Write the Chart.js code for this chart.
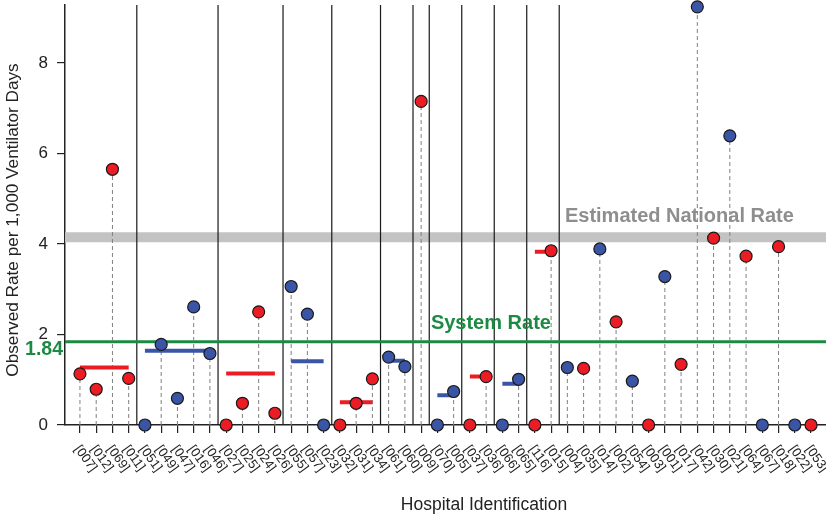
<!DOCTYPE html>
<html>
<head>
<meta charset="utf-8">
<script src="https://cdn.jsdelivr.net/npm/chart.js@4.4.0/dist/chart.umd.min.js"></script>
<style>
body{margin:0;background:#fff;}
#wrap{width:826px;height:516px;position:relative;}
</style>
</head>
<body>
<div id="wrap"><canvas id="grafico"></canvas></div>
<script>
// hospitales en el orden del eje x
var hospitales = ["[007]","[012]","[069]","[011]","[051]","[049]","[047]","[016]","[046]","[027]","[025]","[024]","[026]",
  "[055]","[057]","[023]","[032]","[031]","[034]","[061]","[060]","[009]","[070]","[005]","[037]","[036]","[066]","[065]",
  "[116]","[015]","[004]","[035]","[014]","[002]","[054]","[003]","[001]","[017]","[042]","[030]","[021]","[064]","[067]",
  "[018]","[022]","[053]"];
var tasas = [1.13,0.79,5.65,1.03, 0,1.78,0.59,2.61,1.58, 0,0.48,2.50,0.26, 3.06,2.45,0, 0,0.48,1.02, 1.50,1.29, 7.15,
  0,0.74, 0,1.07, 0,1.01, 0,3.85, 1.27,1.25,3.89,2.28,0.97,0,3.28,1.34,9.24,4.13,6.39,3.73,0,3.94,0,0];
// R = rojo, B = azul
var tipo = ["R","R","R","R","B","B","B","B","B","R","R","R","R","B","B","B","R","R","R","B","B","R","B","B","R","R","B","B",
  "R","R","B","R","B","R","B","R","B","R","B","R","B","R","B","R","B","R"];

// tasa de cada grupo (inicio, fin)
var grupoInicio = [0,4,9,13,16,19,22,24,26,28];
var grupoFin = [3,8,12,15,18,20,23,25,27,29];
var grupoTasa = [1.27,1.64,1.14,1.41,0.50,1.42,0.66,1.07,0.91,3.83];
var grupoTipo = ["R","B","R","B","R","B","B","R","B","R"];

var separadores = [3.5,8.5,12.5,15.5,18.5,20.5,21.5,23.5,25.5,27.5,29.5];
var tasaSistema = 1.84;
var tasaNacional = 4.15;
var marcasY = [0,2,4,6,8];

var ROJO = "#ec1c24", AZUL = "#3a55a6", VERDE = "#1d8a43";
var XMIN = -0.92, XMAX = 45.92, YMAX = 9.28;
var FUENTE = "'Liberation Sans', Arial, sans-serif";

function colorDe(t){ return t == "R" ? ROJO : AZUL; }

// lineas punteadas de cada punto al eje
var tallos = [];
tasas.forEach(function(v, i){
  if(v > 0){
    tallos.push({x:i, y:0}, {x:i, y:v}, {x:i, y:null});
  }
});

var lineasSep = [];
separadores.forEach(function(s){
  lineasSep.push({x:s, y:0}, {x:s, y:YMAX}, {x:s, y:null});
});

var segRojo = [], segAzul = [];
grupoTasa.forEach(function(v, g){
  var dest = grupoTipo[g] == "R" ? segRojo : segAzul;
  dest.push({x:grupoInicio[g], y:v}, {x:grupoFin[g], y:v}, {x:grupoFin[g], y:null});
});

var puntos = tasas.map(function(v, i){ return {x:i, y:v}; });

const textos = {
  id: 'textos',
  afterDraw(chart){
    const ctx = chart.ctx;
    const xs = chart.scales.x, ys = chart.scales.y;
    ctx.save();
    ctx.font = "bold 20px " + FUENTE;
    ctx.textBaseline = "middle";
    ctx.fillStyle = "#8e8e8e";
    ctx.textAlign = "left";
    ctx.fillText("Estimated National Rate", xs.getPixelForValue(29.85), ys.getPixelForValue(tasaNacional) - 21);
    ctx.fillStyle = VERDE;
    ctx.fillText("System Rate", xs.getPixelForValue(21.6), ys.getPixelForValue(tasaSistema) - 18);
    ctx.textAlign = "right";
    ctx.font = "bold 19.5px " + FUENTE;
    ctx.fillText(tasaSistema.toFixed(2), 63, ys.getPixelForValue(tasaSistema) + 8);

    // titulos de los ejes
    ctx.fillStyle = "#222";
    ctx.textAlign = "center";
    ctx.font = "17.5px " + FUENTE;
    ctx.fillText("Hospital Identification", 484, 505);
    ctx.save();
    ctx.translate(13, 220);
    ctx.rotate(-Math.PI / 2);
    ctx.font = "17.2px " + FUENTE;
    ctx.fillText("Observed Rate per 1,000 Ventilator Days", 0, 0);
    ctx.restore();

    // etiquetas del eje x, giradas hacia abajo
    ctx.font = "13px " + FUENTE;
    ctx.textAlign = "left";
    hospitales.forEach(function(h, i){
      const px = xs.getPixelForValue(i);
      ctx.save();
      ctx.translate(px - 3, ys.bottom + 22);
      ctx.rotate(54 * Math.PI / 180);
      ctx.fillText(h, 0, 0);
      ctx.restore();
    });
    ctx.restore();
  }
};

new Chart(document.getElementById("grafico"), {
  type: 'line',
  data: {
    datasets: [
      { data: puntos, showLine: false, pointRadius: 6, pointBorderWidth: 1.2, pointBorderColor: "#1a1a1a",
        pointBackgroundColor: tipo.map(colorDe), clip: false, order: 0 },
      { data: segRojo, borderColor: ROJO, borderWidth: 4, pointRadius: 0, spanGaps: false, borderCapStyle: 'butt', order: 1 },
      { data: segAzul, borderColor: AZUL, borderWidth: 4, pointRadius: 0, spanGaps: false, borderCapStyle: 'butt', order: 1 },
      { data: tallos, borderColor: "#808080", borderWidth: 1, borderDash: [4,3], pointRadius: 0, spanGaps: false, order: 2 },
      { data: [{x:XMIN, y:tasaSistema}, {x:XMAX, y:tasaSistema}], borderColor: VERDE, borderWidth: 3, pointRadius: 0, order: 3 },
      { data: lineasSep, borderColor: "#1a1a1a", borderWidth: 1.2, pointRadius: 0, spanGaps: false, order: 4 },
      { data: [{x:XMIN, y:tasaNacional}, {x:XMAX, y:tasaNacional}], borderColor: "#c3c3c3", borderWidth: 10, pointRadius: 0,
        borderCapStyle: 'butt', order: 5 }
    ]
  },
  options: {
    responsive: true,
    maintainAspectRatio: false,
    animation: false,
    layout: { autoPadding: false, padding: { top: 5, right: 0, left: 0, bottom: 0 } },
    plugins: { legend: { display: false }, tooltip: { enabled: false } },
    events: [],
    scales: {
      x: {
        type: 'linear',
        min: XMIN,
        max: XMAX,
        afterBuildTicks: function(scale){ scale.ticks = hospitales.map(function(h, i){ return {value:i}; }); },
        afterFit: function(scale){
          scale.height = 91;
          scale.paddingLeft = 0; scale.paddingRight = 0;
        },
        ticks: { display: false },
        grid: { drawOnChartArea: false, drawTicks: true, tickLength: 8, color: "#222", lineWidth: 1.2 },
        border: { display: true, color: "#222", width: 1.5 }
      },
      y: {
        min: 0,
        max: YMAX,
        afterBuildTicks: function(scale){ scale.ticks = marcasY.map(function(v){ return {value:v}; }); },
        afterFit: function(scale){
          scale.width = 65;
          scale.paddingTop = 0; scale.paddingBottom = 0;
        },
        ticks: { color: "#222", padding: 9, font: { family: FUENTE, size: 17 } },
        grid: { drawOnChartArea: false, drawTicks: true, tickLength: 8, color: "#222", lineWidth: 1.2 },
        border: { display: true, color: "#222", width: 1.5 }
      }
    }
  },
  plugins: [textos]
});
</script>
</body>
</html>
